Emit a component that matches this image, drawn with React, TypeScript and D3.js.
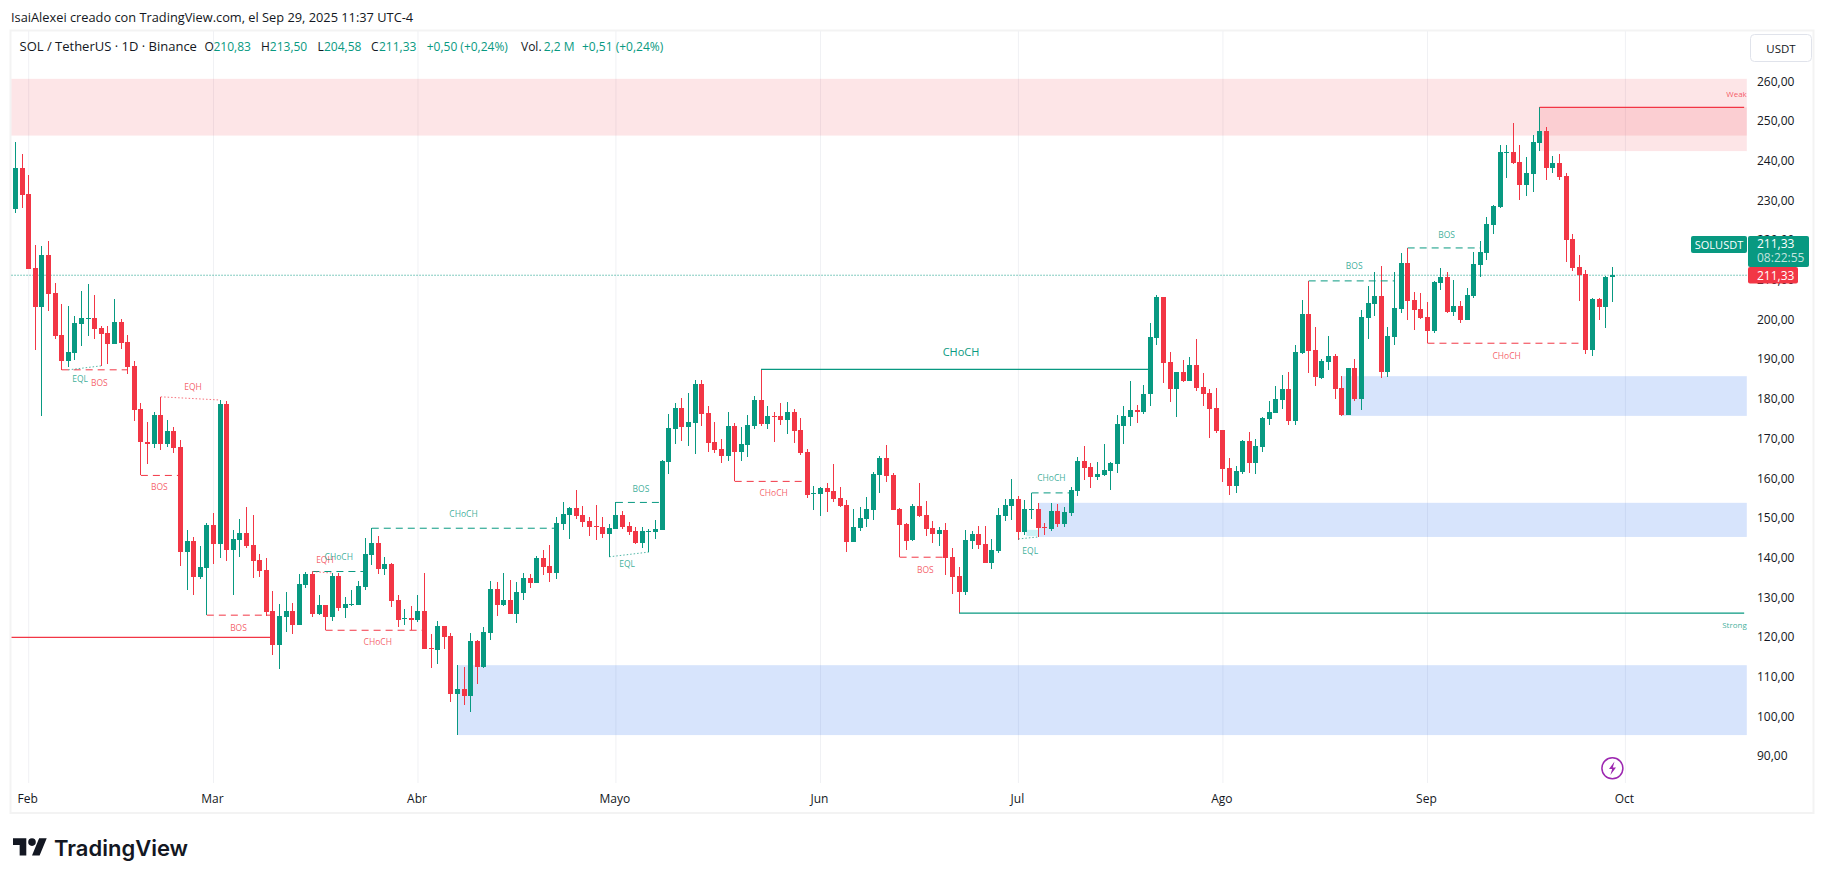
import * as d3 from "d3";

// daily candles, SOL/USDT, starting Jan 30 2025
const opens = [
  228.0,238.3,231.8,213.2,203.4,216.4,206.9,196.3,189.6,191.8,
  199.1,200.4,200.6,198.0,196.8,194.1,199.5,194.5,188.5,177.6,
  169.3,168.9,176.1,168.9,172.1,168.1,141.7,144.4,135.4,137.6,
  148.4,143.7,178.9,142.2,144.6,146.4,143.4,139.6,137.1,126.8,
  118.2,125.3,126.8,123.2,133.3,136.1,126.0,128.3,125.3,135.6,
  127.5,128.3,128.3,132.8,140.9,143.9,137.3,138.6,129.5,124.7,
  124.9,124.5,126.8,117.4,117.0,123.0,120.5,105.9,107.1,105.4,
  119.2,112.7,121.2,132.3,128.3,129.5,126.0,131.3,135.1,133.8,
  140.1,138.1,136.3,148.7,150.9,152.7,150.9,149.4,148.2,147.9,
  146.2,147.4,150.9,148.2,146.9,143.9,146.7,146.7,147.2,164.3,
  172.6,177.9,173.1,174.1,183.9,176.6,169.3,167.6,165.8,173.3,
  166.8,168.6,173.3,179.9,173.9,175.9,175.9,174.9,176.9,172.3,
  166.8,156.2,156.2,157.7,157.0,155.2,153.4,144.1,147.7,150.0,
  152.2,161.0,165.3,161.0,152.5,148.7,144.6,153.2,150.9,147.6,
  146.1,147.2,140.4,135.6,131.5,144.4,146.1,143.6,138.8,141.9,
  150.7,153.2,155.0,146.7,152.3,152.5,147.9,147.4,151.9,148.7,
  151.4,157.0,164.5,163.0,160.5,161.0,162.0,163.8,173.4,175.6,
  177.4,176.9,181.4,195.5,205.8,189.5,182.7,186.9,184.7,188.7,
  183.2,181.7,177.9,172.3,162.8,158.2,161.8,169.6,164.0,168.1,
  175.1,176.6,179.9,182.7,174.6,191.7,201.6,192.5,185.4,189.5,
  191.0,182.9,176.1,188.0,180.2,200.6,204.1,206.1,186.9,195.8,
  202.8,214.4,205.1,202.8,200.8,197.3,209.4,210.9,202.1,203.6,
  200.0,206.1,213.9,216.9,224.0,228.5,242.2,242.4,239.8,234.1,
  236.8,244.6,247.7,238.3,239.6,236.3,220.5,213.4,211.6,192.5,
  205.3,203.3,210.83,
];
const highs = [
  244.9,241.9,236.6,218.9,218.7,219.9,209.4,204.1,203.6,201.1,
  207.4,209.1,206.3,198.5,198.5,205.3,200.3,196.3,189.7,179.1,
  174.4,176.9,180.7,174.9,173.1,169.8,147.2,145.4,143.1,148.9,
  151.4,179.9,179.6,147.2,149.9,153.0,150.9,141.1,140.1,131.8,
  128.5,131.5,128.8,136.1,136.6,136.7,130.8,128.3,136.3,136.3,
  130.3,132.0,134.3,145.1,147.6,145.6,140.3,138.8,130.8,127.3,
  128.0,130.8,136.3,121.0,124.3,123.0,121.2,113.1,112.7,121.2,
  119.5,122.7,134.3,134.1,136.3,134.6,134.1,136.3,136.1,140.6,
  142.1,143.4,150.4,154.2,153.0,157.2,153.2,150.4,153.5,150.4,
  148.7,154.1,152.0,149.2,147.9,147.9,147.4,149.7,164.8,176.4,
  179.1,180.4,181.7,185.0,185.0,178.4,174.4,170.1,176.9,174.1,
  173.1,176.1,180.9,187.6,178.4,176.9,179.1,179.4,177.6,175.4,
  167.6,158.2,158.0,159.0,163.8,158.0,154.7,152.5,153.0,155.5,
  161.8,165.8,168.6,161.5,152.7,148.9,153.7,159.0,154.5,149.4,
  147.9,148.9,142.6,137.8,147.2,146.9,148.2,148.2,144.9,152.7,
  155.0,160.0,155.7,154.7,156.5,154.0,148.9,154.0,153.7,153.0,
  158.0,165.5,168.3,164.0,164.3,168.8,164.3,176.1,178.4,184.7,
  178.6,183.7,199.3,206.3,205.8,192.0,186.9,190.0,190.7,195.3,
  186.7,182.7,182.9,172.3,165.3,163.3,169.8,171.8,170.1,175.6,
  179.6,183.4,186.2,186.9,193.7,205.1,209.9,198.3,190.2,196.0,
  191.5,185.9,188.0,190.2,202.6,208.6,212.1,213.7,198.3,212.1,
  216.9,218.2,207.1,206.8,204.6,209.9,213.1,212.1,210.1,204.8,
  208.1,217.2,219.9,226.0,229.0,244.1,244.1,249.7,244.1,241.1,
  246.6,253.6,248.7,241.3,241.9,237.1,221.7,216.4,212.6,205.6,
  205.6,211.1,213.5,
];
const lows = [
  227.0,228.3,212.9,192.5,175.9,202.2,195.3,187.5,188.3,190.0,
  193.5,196.0,195.3,188.5,189.0,194.1,192.7,186.4,174.6,160.9,
  163.8,167.8,167.3,168.1,166.6,138.1,132.0,130.8,134.8,125.7,
  138.6,140.1,139.3,130.8,140.4,142.6,135.1,135.3,125.5,115.7,
  112.1,121.5,121.0,123.2,132.5,125.3,125.8,122.0,124.2,126.8,
  125.0,128.0,128.3,132.0,138.3,136.1,135.8,127.8,122.7,123.2,
  122.0,124.0,117.2,112.4,113.4,117.2,103.8,95.5,103.1,101.3,
  108.4,112.4,119.5,125.5,128.0,126.0,123.7,129.5,132.6,133.8,
  135.8,134.1,134.8,147.2,144.9,149.9,147.9,145.6,144.6,145.1,
  140.4,147.4,147.4,145.9,143.6,142.6,141.6,144.9,147.2,161.3,
  168.8,169.6,168.3,166.3,173.3,166.8,166.5,164.0,164.5,159.4,
  164.5,165.5,172.6,173.3,172.6,169.3,173.6,171.3,169.1,166.0,
  155.2,152.2,150.7,151.7,154.2,153.0,141.6,144.1,146.9,147.9,
  149.7,156.5,159.2,152.2,140.3,142.1,144.4,150.4,145.6,143.9,
  143.1,135.8,131.0,126.2,130.8,142.4,142.4,138.8,137.3,141.4,
  149.4,149.7,144.6,145.9,149.9,145.4,145.9,146.9,147.9,147.9,
  150.7,155.7,159.8,157.7,159.8,160.8,157.2,161.5,168.8,173.4,
  174.1,176.4,178.4,193.8,184.2,179.4,175.6,184.4,184.7,182.2,
  178.4,170.3,171.6,159.3,156.0,156.5,161.3,161.5,161.3,166.8,
  173.6,176.6,177.6,173.6,173.6,191.5,186.7,183.4,185.2,187.5,
  180.2,175.9,176.1,179.6,177.4,195.3,201.1,185.4,185.7,193.8,
  201.8,200.0,197.5,200.3,194.2,196.8,207.6,201.8,201.1,199.3,
  200.0,205.6,210.9,215.2,221.7,228.3,235.8,239.3,230.3,231.3,
  232.3,242.6,235.3,237.1,235.3,214.7,212.4,204.8,191.5,191.0,
  200.0,198.0,204.58,
];
const closes = [
  238.3,231.6,212.9,203.4,216.4,206.7,196.1,189.6,192.0,199.3,
  200.6,200.5,197.9,196.6,194.1,199.5,194.3,188.2,177.4,169.2,
  168.9,176.1,168.9,172.1,167.9,141.7,144.4,135.4,137.8,148.4,
  143.7,178.9,142.2,144.9,146.4,143.1,139.3,136.8,126.5,118.2,
  125.5,126.8,123.2,133.6,136.1,126.0,128.3,125.3,135.6,127.5,
  128.5,128.5,133.1,141.1,143.9,137.3,138.6,129.3,124.5,124.9,
  124.5,126.8,117.2,117.3,123.0,120.2,105.9,107.1,105.4,119.2,
  112.7,121.5,132.3,128.3,129.5,126.0,131.5,135.1,133.8,140.1,
  137.8,136.3,148.9,151.2,152.7,150.7,149.2,147.9,148.0,146.2,
  147.7,150.9,147.9,146.7,143.9,146.9,146.9,147.4,164.5,172.8,
  177.9,173.1,174.4,183.9,176.4,169.1,167.3,165.8,173.3,166.8,
  168.8,173.6,179.9,173.9,175.9,175.6,174.9,176.9,172.1,166.5,
  156.0,156.5,157.7,156.7,155.0,153.2,144.1,147.9,150.2,152.5,
  161.3,165.3,160.8,152.2,148.4,144.4,153.2,150.7,147.4,146.2,
  147.2,140.1,135.3,131.5,144.6,146.1,143.4,138.8,142.1,150.9,
  153.5,155.0,146.7,152.5,152.5,147.7,147.7,151.9,148.7,151.7,
  157.2,164.5,162.8,160.5,161.3,162.3,164.0,173.8,175.9,177.4,
  176.9,181.4,195.8,205.8,189.2,182.7,186.9,184.7,188.7,182.9,
  181.4,177.6,172.1,162.5,158.2,162.0,169.6,164.0,168.3,175.4,
  176.9,180.2,182.7,174.6,192.0,201.6,192.2,185.7,189.7,191.0,
  182.7,176.1,188.0,180.2,200.8,204.3,206.1,186.9,196.0,203.1,
  214.4,204.8,202.6,200.6,197.3,209.6,210.9,202.1,203.6,200.0,
  206.3,214.2,217.2,224.2,228.8,242.4,242.4,239.6,234.1,237.1,
  244.9,247.7,238.3,239.6,236.1,220.2,213.1,211.4,192.5,205.3,
  203.3,210.9,211.33,
];

const monthLabels = ["Feb", "Mar", "Abr", "Mayo", "Jun", "Jul", "Ago", "Sep", "Oct"];
const monthBars = [2, 30, 61, 91, 122, 152, 183, 214, 244];
const priceTicks = [260, 250, 240, 230, 220, 210, 200, 190, 180, 170, 160, 150, 140, 130, 120, 110, 100, 90];
const lastPrice = 211.33;
const PANE_START = -0.6; // bar numbers of the pane edges
const PANE_END = 262.4;

// [from bar, to bar, top price, bottom price]
const premiumZone = [PANE_START, PANE_END, 260.8, 246.5];
const weakZone = [231, PANE_END, 253.6, 242.6];
const demandZones = [
  [67, PANE_END, 113.1, 95.5],
  [155, PANE_END, 154.0, 145.4],
  [201, PANE_END, 185.9, 175.9],
];
const eqlBox = [153.2, 155, 147.2, 145.6];

// [from bar, to bar, price]
const solidGreen = [[113, 172, 187.6], [143, 262, 126.2]];
const solidRed = [[PANE_START, 39, 120.1], [231, 262, 253.6]];
const dashedGreen = [
  [45, 53, 136.7], [54, 82, 147.6], [91, 98, 154.1], [154, 160, 156.5],
  [196, 209, 209.9], [211, 222, 218.2],
];
const dashedRed = [
  [7, 17, 187.5], [19, 25, 160.9], [29, 39, 125.7], [47, 62, 121.9],
  [109, 120, 159.4], [134, 141, 140.3], [214, 238, 194.2],
];
// [from bar, to bar, price at start, price at end]
const dottedGreen = [[8, 13, 187.5, 188.5], [90, 96, 140.4, 141.6], [152, 155, 144.9, 145.4]];
const dottedRed = [[22, 31, 180.7, 179.9], [45, 48, 136.7, 136.3]];

const labelTexts = ["BOS", "EQL", "BOS", "EQH", "BOS", "EQH", "CHoCH", "CHoCH", "CHoCH", "EQL", "BOS", "CHoCH", "BOS", "EQL", "CHoCH", "BOS", "BOS", "CHoCH"];
const labelBars = [12.7, 9.8, 21.8, 26.9, 33.8, 46.9, 49, 54.9, 67.9, 92.7, 94.8, 114.9, 137.9, 153.8, 157, 202.9, 216.9, 226];
const labelPrices = [184.2, 185.4, 158.0, 183.4, 122.5, 139.8, 140.4, 119, 151.2, 138.6, 157.7, 156.5, 137.1, 142.1, 160.3, 213.7, 221.7, 191.2];
const labelBullish = [0, 1, 0, 0, 0, 0, 1, 0, 1, 1, 1, 0, 0, 1, 1, 1, 1, 0];

const GREEN = "#089981";
const RED = "#f23645";
const INK = "#131722";
const FONT = "'Open Sans', 'Noto Sans', sans-serif";

const x = d3.scaleLinear().domain([0, 242]).range([15.5, 1612.2]);
const y = d3.scaleLinear().domain([260, 90]).range([82, 756.9]);
const fmt = (v: number) => d3.format(".2f")(v).replace(".", ",");

function Zone({ z, fill }: { z: number[]; fill: string }) {
  return <rect x={x(z[0])} y={y(z[2])} width={x(z[1]) - x(z[0])} height={y(z[3]) - y(z[2])} fill={fill} />;
}

function Candles() {
  return (
    <g shapeRendering="crispEdges">
      {opens.map((o, i) => {
        const c = closes[i];
        const color = c >= o ? GREEN : RED;
        const cx = Math.floor(x(i));
        const top = Math.round(y(Math.max(o, c)));
        const h = Math.max(1, Math.round(y(Math.min(o, c))) - top);
        return (
          <g key={i} fill={color}>
            <rect x={cx} y={y(highs[i])} width={1} height={y(lows[i]) - y(highs[i])} />
            <rect x={cx - 2} y={top} width={5} height={h} />
          </g>
        );
      })}
    </g>
  );
}

function Header() {
  const parts: [string, number, string][] = [
    ["O", 204.5, INK], ["210,83", 213.5, GREEN],
    ["H", 261, INK], ["213,50", 269.8, GREEN],
    ["L", 317.5, INK], ["204,58", 324, GREEN],
    ["C", 371, INK], ["211,33", 379, GREEN],
    ["+0,50 (+0,24%)", 426.7, GREEN],
    ["Vol.", 521, INK], ["2,2 M", 543.8, GREEN],
    ["+0,51 (+0,24%)", 582, GREEN],
  ];
  return (
    <g fontSize={12} fontFamily={FONT}>
      <text x={19.5} y={51} fontSize={13} fill={INK}>SOL / TetherUS · 1D · Binance</text>
      {parts.map(([t, px, col], i) => (
        <text key={i} x={px} y={51} fill={col}>{t}</text>
      ))}
    </g>
  );
}

export default function App() {
  return (
    <svg width={1826} height={880} style={{ position: "fixed", left: 0, top: 0, background: "#fff" }} fontFamily={FONT}>
      <text x={11} y={21.5} fontSize={12.8} fill={INK}>IsaiAlexei creado con TradingView.com, el Sep 29, 2025 11:37 UTC-4</text>
      <rect x={10.5} y={30.5} width={1803} height={782.5} fill="#fff" stroke="#f3f3f3" strokeWidth={2} />

      {monthBars.map((b) => (
        <line key={b} x1={x(b)} x2={x(b)} y1={31} y2={783} stroke="#f0f1f4" strokeWidth={1} />
      ))}

      <Zone z={premiumZone} fill="rgba(242,54,69,0.13)" />
      <Zone z={weakZone} fill="rgba(242,54,69,0.13)" />
      {demandZones.map((z, i) => (
        <Zone key={i} z={z} fill="rgba(41,110,240,0.19)" />
      ))}
      <rect x={x(eqlBox[0])} y={y(eqlBox[2])} width={x(eqlBox[1]) - x(eqlBox[0])} height={y(eqlBox[3]) - y(eqlBox[2])} fill="rgba(0,188,212,0.2)" />

      <line x1={x(PANE_START)} x2={x(PANE_END)} y1={y(lastPrice)} y2={y(lastPrice)} stroke={GREEN} strokeDasharray="1 2" />

      <Candles />

      {solidGreen.map((l, i) => (
        <line key={i} x1={x(l[0])} x2={x(l[1])} y1={y(l[2])} y2={y(l[2])} stroke={GREEN} strokeWidth={1.2} />
      ))}
      {solidRed.map((l, i) => (
        <line key={i} x1={x(l[0])} x2={x(l[1])} y1={y(l[2])} y2={y(l[2])} stroke={RED} strokeWidth={1.2} />
      ))}
      {dashedGreen.map((l, i) => (
        <line key={i} x1={x(l[0])} x2={x(l[1])} y1={y(l[2])} y2={y(l[2])} stroke={GREEN} strokeDasharray="7 5" />
      ))}
      {dashedRed.map((l, i) => (
        <line key={i} x1={x(l[0])} x2={x(l[1])} y1={y(l[2])} y2={y(l[2])} stroke={RED} strokeDasharray="7 5" />
      ))}
      {dottedGreen.map((l, i) => (
        <line key={i} x1={x(l[0])} x2={x(l[1])} y1={y(l[2])} y2={y(l[3])} stroke={GREEN} strokeDasharray="1.5 2" strokeOpacity={0.7} />
      ))}
      {dottedRed.map((l, i) => (
        <line key={i} x1={x(l[0])} x2={x(l[1])} y1={y(l[2])} y2={y(l[3])} stroke={RED} strokeDasharray="1.5 2" strokeOpacity={0.7} />
      ))}

      <g fontSize={8.5} textAnchor="middle" dominantBaseline="central" fillOpacity={0.8}>
        {labelTexts.map((t, i) => (
          <text key={i} x={x(labelBars[i])} y={y(labelPrices[i])} fill={labelBullish[i] ? GREEN : RED}>{t}</text>
        ))}
      </g>
      <text x={x(143.3)} y={y(192.2)} fontSize={11} textAnchor="middle" dominantBaseline="central" fill={GREEN}>CHoCH</text>
      <text x={x(PANE_END)} y={y(257)} fontSize={8} textAnchor="end" dominantBaseline="central" fill={RED} fillOpacity={0.8}>Weak</text>
      <text x={x(PANE_END)} y={y(123.3)} fontSize={8} textAnchor="end" dominantBaseline="central" fill={GREEN} fillOpacity={0.8}>Strong</text>

      <Header />

      {priceTicks.map((p) => (
        <text key={p} x={1757} y={y(p) - 1} fontSize={12} dominantBaseline="central" fill={INK}>{fmt(p)}</text>
      ))}
      {monthLabels.map((m, i) => (
        <text key={m} x={x(monthBars[i]) - 1} y={798} fontSize={12} textAnchor="middle" dominantBaseline="central" fill={INK}>{m}</text>
      ))}

      <rect x={1750.5} y={34.5} width={61} height={27} rx={4} fill="#fff" stroke="#e0e3eb" />
      <text x={1781} y={48.5} fontSize={11.5} textAnchor="middle" dominantBaseline="central" fill={INK}>USDT</text>

      <rect x={1691} y={236} width={56} height={17} rx={2} fill={GREEN} />
      <text x={1719} y={244.5} fontSize={11} textAnchor="middle" dominantBaseline="central" fill="#fff">SOLUSDT</text>
      <rect x={1748} y={236} width={61} height={31} rx={2} fill={GREEN} />
      <text x={1757} y={243.7} fontSize={12} dominantBaseline="central" fill="#fff">{fmt(lastPrice)}</text>
      <text x={1757} y={257.7} fontSize={12} dominantBaseline="central" fill="#fff" fillOpacity={0.75}>08:22:55</text>
      <rect x={1748} y={267} width={50} height={16.5} rx={2} fill={RED} />
      <text x={1757} y={275} fontSize={12} dominantBaseline="central" fill="#fff">{fmt(lastPrice)}</text>

      <circle cx={1612.4} cy={768.3} r={10.5} fill="#fff" stroke="#9c27b0" strokeWidth={1.5} />
      <path d="M1614.5 761.5 L1609 769 L1612.2 769 L1610.4 775 L1616 767.4 L1612.8 767.4 Z" fill="#9c27b0" />

      <g transform="translate(13,834.5) scale(0.95)" fill="#131722">
        <path d="M14 22H7V11H0V4h14v18ZM28 22h-8l7.5-18h8L28 22Z" />
        <circle cx={20} cy={8} r={4} />
      </g>
      <text x={54} y={848} fontSize={22} fontWeight={600} fontFamily="Inter, Roboto, sans-serif" dominantBaseline="central" fill="#131722">TradingView</text>
    </svg>
  );
}
